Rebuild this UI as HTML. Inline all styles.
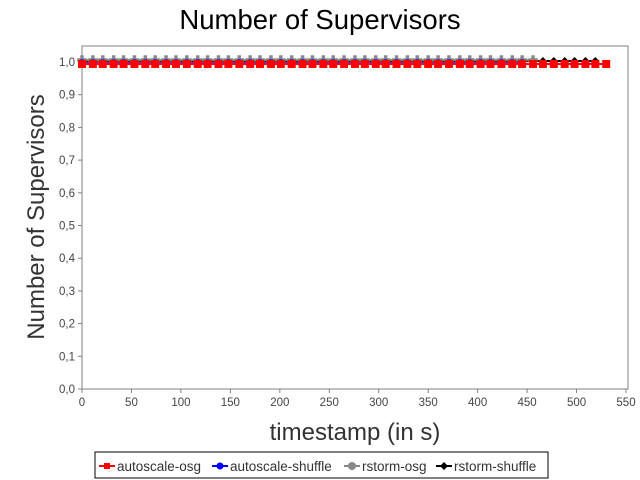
<!DOCTYPE html>
<html><head><meta charset="utf-8"><style>
body{margin:0;background:#fff;}
svg{display:block;font-family:"Liberation Sans",sans-serif;}
</style></head><body>
<svg id="c" width="640" height="480">
<text x="320" y="29" text-anchor="middle" font-size="27.5" fill="#000">Number of Supervisors</text>
<rect x="82" y="46" width="546" height="343" fill="#fff" stroke="#808080"/>
<g id="yt"></g>
<g id="xt"></g>
<text transform="translate(44,217) rotate(-90)" text-anchor="middle" font-size="24" fill="#333">Number of Supervisors</text>
<text x="355" y="440" text-anchor="middle" font-size="24" fill="#333">timestamp (in s)</text>
<g id="series"></g>
<g>
<rect x="95" y="452" width="453" height="26" fill="#fff" stroke="#000"/>
<g><line x1="99" y1="466" x2="115" y2="466" stroke="#f00" stroke-width="2"/><rect x="104" y="463" width="6" height="6" fill="#f00"/><text x="117" y="471" font-size="13.5" fill="#333">autoscale-osg</text></g>
<g><line x1="212" y1="466" x2="228" y2="466" stroke="#00f" stroke-width="2"/><circle cx="220" cy="466" r="3.5" fill="#00f"/><text x="230" y="471" font-size="13.5" fill="#333">autoscale-shuffle</text></g>
<g><line x1="344" y1="466" x2="360" y2="466" stroke="#888" stroke-width="2"/><circle cx="352" cy="466" r="4" fill="#888"/><text x="362" y="471" font-size="13.5" fill="#333">rstorm-osg</text></g>
<g><line x1="436" y1="466" x2="452" y2="466" stroke="#000" stroke-width="2"/><path d="M444 462 L448 466 L444 470 L440 466Z" fill="#000"/><text x="454" y="471" font-size="13.5" fill="#333">rstorm-shuffle</text></g>
</g>
</svg>
<script>
const xTicks=[0,50,100,150,200,250,300,350,400,450,500,550];
const yTicks=[0,0.1,0.2,0.3,0.4,0.5,0.6,0.7,0.8,0.9,1.0];
const tsRed=[0,11,21,32,42,53,64,74,85,95,106,117,127,138,148,159,170,180,191,201,212,223,233,244,254,265,276,286,297,307,318,329,339,350,360,371,382,392,403,413,424,435,445,456,466,477,488,498,509,519,530];
const valRed=[0.994,0.994,0.994,0.994,0.994,0.994,0.994,0.994,0.994,0.994,0.994,0.994,0.994,0.994,0.994,0.994,0.994,0.994,0.994,0.994,0.994,0.994,0.994,0.994,0.994,0.994,0.994,0.994,0.994,0.994,0.994,0.994,0.994,0.994,0.994,0.994,0.994,0.994,0.994,0.994,0.994,0.994,0.994,0.994,0.994,0.994,0.994,0.994,0.994,0.994,0.994];
const tsBlue=[0,11,21,32,42,53,64,74,85,95,106,117,127,138,148,159,170,180,191,201,212,223,233,244,254,265,276,286,297,307,318,329,339,350,360,371,382,392,403,413,424,435,445];
const valBlue=[0.996,0.996,0.996,0.996,0.996,0.996,0.996,0.996,0.996,0.996,0.996,0.996,0.996,0.996,0.996,0.996,0.996,0.996,0.996,0.996,0.996,0.996,0.996,0.996,0.996,0.996,0.996,0.996,0.996,0.996,0.996,0.996,0.996,0.996,0.996,0.996,0.996,0.996,0.996,0.996,0.996,0.996,0.996];
const tsGray=[0,11,21,32,42,53,64,74,85,95,106,117,127,138,148,159,170,180,191,201,212,223,233,244,254,265,276,286,297,307,318,329,339,350,360,371,382,392,403,413,424,435,445,456];
const valGray=[1.006,1.006,1.006,1.006,1.006,1.006,1.006,1.006,1.006,1.006,1.006,1.006,1.006,1.006,1.006,1.006,1.006,1.006,1.006,1.006,1.006,1.006,1.006,1.006,1.006,1.006,1.006,1.006,1.006,1.006,1.006,1.006,1.006,1.006,1.006,1.006,1.006,1.006,1.006,1.006,1.006,1.006,1.006,1.006];
const tsBlack=[0,11,21,32,42,53,64,74,85,95,106,117,127,138,148,159,170,180,191,201,212,223,233,244,254,265,276,286,297,307,318,329,339,350,360,371,382,392,403,413,424,435,445,456,466,477,488,498,509,519];
const valBlack=[1.003,1.003,1.003,1.003,1.003,1.003,1.003,1.003,1.003,1.003,1.003,1.003,1.003,1.003,1.003,1.003,1.003,1.003,1.003,1.003,1.003,1.003,1.003,1.003,1.003,1.003,1.003,1.003,1.003,1.003,1.003,1.003,1.003,1.003,1.003,1.003,1.003,1.003,1.003,1.003,1.003,1.003,1.003,1.003,1.003,1.003,1.003,1.003,1.003,1.003];

const NS='http://www.w3.org/2000/svg';
const X=v=>82+v/550*544;
const Y=v=>389-v*327;
function mk(tag,attrs,parent){const e=document.createElementNS(NS,tag);for(const k in attrs)e.setAttribute(k,attrs[k]);parent.appendChild(e);return e;}
const yt=document.getElementById('yt'),xt=document.getElementById('xt');
yTicks.forEach(v=>{
  mk('line',{x1:78,x2:82,y1:Y(v),y2:Y(v),stroke:'#808080'},yt);
  const t=mk('text',{x:75,y:Y(v)+4,'text-anchor':'end','font-size':11.5,fill:'#444'},yt);
  t.textContent=v.toFixed(1).replace('.',',');
  
  
});
xTicks.forEach(v=>{
  mk('line',{x1:X(v),x2:X(v),y1:389,y2:393,stroke:'#808080'},xt);
  const t=mk('text',{x:X(v),y:406,'text-anchor':'middle','font-size':11.5,fill:'#444'},xt);
  t.textContent=v;
  
  
});
const sg=document.getElementById('series');
function series(ts,vals,color,shape,name){
  const g=mk('g',{},sg);
  
  
  mk('polyline',{points:ts.map((t,i)=>X(t)+','+Y(vals[i])).join(' '),fill:'none',stroke:color,'stroke-width':2},g);
  ts.forEach((t,i)=>{
    const x=X(t),y=Y(vals[i]);let m;
    if(shape==='square')m=mk('rect',{x:x-4,y:y-4,width:8,height:8,fill:color},g);
    else if(shape==='circle')m=mk('circle',{cx:x,cy:y,r:4,fill:color},g);
    else if(shape==='star')m=mk('path',{d:`M${x-4} ${y-1}h3v-3h2v3h3v2h-3v3h-2v-3h-3z`,fill:color,stroke:color,'stroke-width':1.5},g);
    else m=mk('path',{d:`M${x} ${y-4}L${x+4} ${y}L${x} ${y+4}L${x-4} ${y}Z`,fill:color},g);
    
    
  });
}
series(tsBlack,valBlack,'#000','diamond','series-rstorm-shuffle');
series(tsGray,valGray,'#888','star','series-rstorm-osg');
series(tsBlue,valBlue,'#00f','circle','series-autoscale-shuffle');
series(tsRed,valRed,'#f00','square','series-autoscale-osg');
</script>
</body></html>
